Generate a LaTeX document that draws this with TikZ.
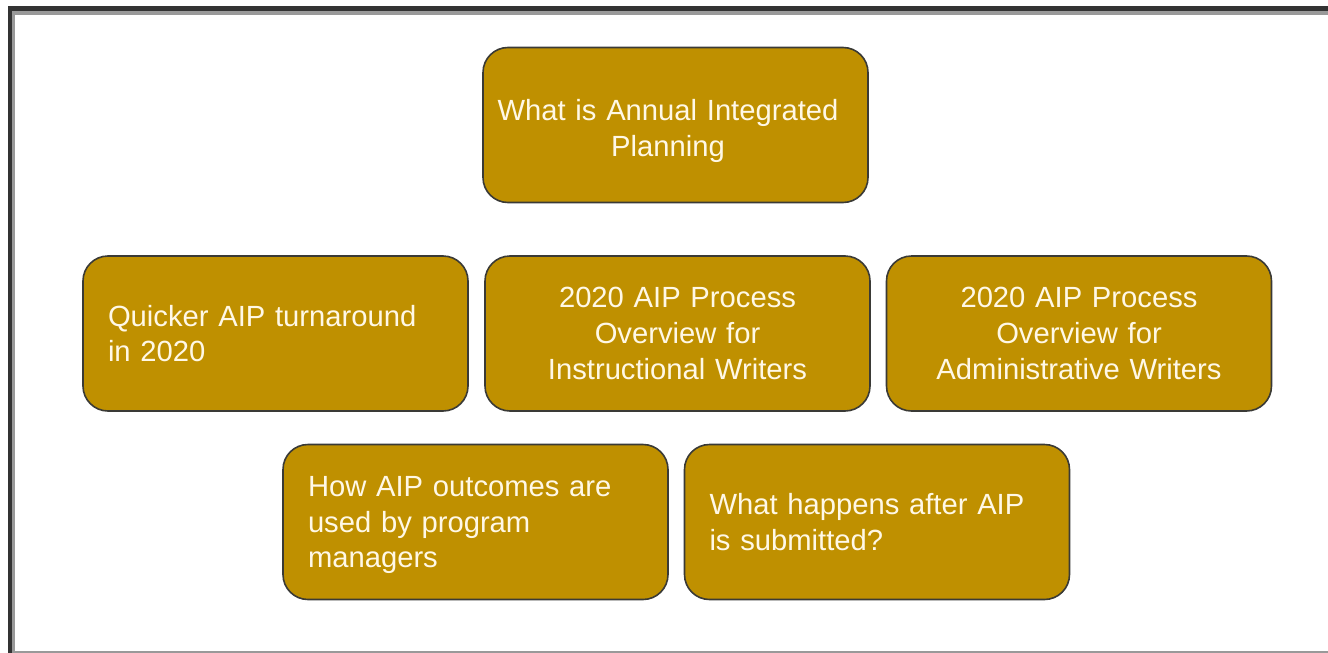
\documentclass[tikz,border=0pt]{standalone}
\usepackage{fontspec}
\setmainfont{Liberation Sans}
\definecolor{boxfill}{HTML}{BF9000}
\definecolor{boxline}{HTML}{3A3A36}
\definecolor{frameDark}{HTML}{333333}
\definecolor{frameGray}{HTML}{999999}
\definecolor{txt}{HTML}{FFF8E6}
\begin{document}
\begin{tikzpicture}[x=0.5pt,y=-0.5pt,
  boxtext/.style={text=txt, font=\fontsize{14.6pt}{17.8pt}\selectfont},
  box/.style={boxtext, draw=boxline, line width=0.8pt, fill=boxfill, rounded corners=12.5pt,
    minimum width=192.5pt, minimum height=77.5pt, text width=167.5pt, inner xsep=12.5pt,
    inner ysep=0pt},
  lbox/.style={box, align=left},
  cbox/.style={box, align=center}]
\useasboundingbox (0,0) rectangle (1328,653);
\fill[white] (0,0) rectangle (1328,653);
% frame
\fill[frameGray] (12,11) rectangle (1328,15);
\fill[frameGray] (12,11) rectangle (15,653);
\fill[frameDark] (8,6) rectangle (1328,11);
\fill[frameDark] (8,6) rectangle (12,653);
\fill[frameGray] (15,651) rectangle (1328,653);
% boxes
\node[cbox] (top) at (675.5,125) {};
\node[boxtext, align=center, text width=185pt, inner sep=0pt] (toptext) at (668,131) {What is Annual Integrated\\Planning};
\node[lbox] (quick) at (275.5,333.5) {Quicker AIP turnaround\\in 2020};
\node[cbox] (instr) at (677.5,333.5) {2020 AIP Process\\Overview for\\Instructional Writers};
\node[cbox] (admin) at (1079,333.5) {2020 AIP Process\\Overview for\\Administrative Writers};
\node[box] (how) at (475.5,522) {};
\node[boxtext, align=left, text width=167.5pt, inner sep=0pt] (howtext) at (475.5,525) {How AIP outcomes are\\used by program\\managers};
\node[lbox] (after) at (877,522) {What happens after AIP\\is submitted?};
\end{tikzpicture}
\end{document}
